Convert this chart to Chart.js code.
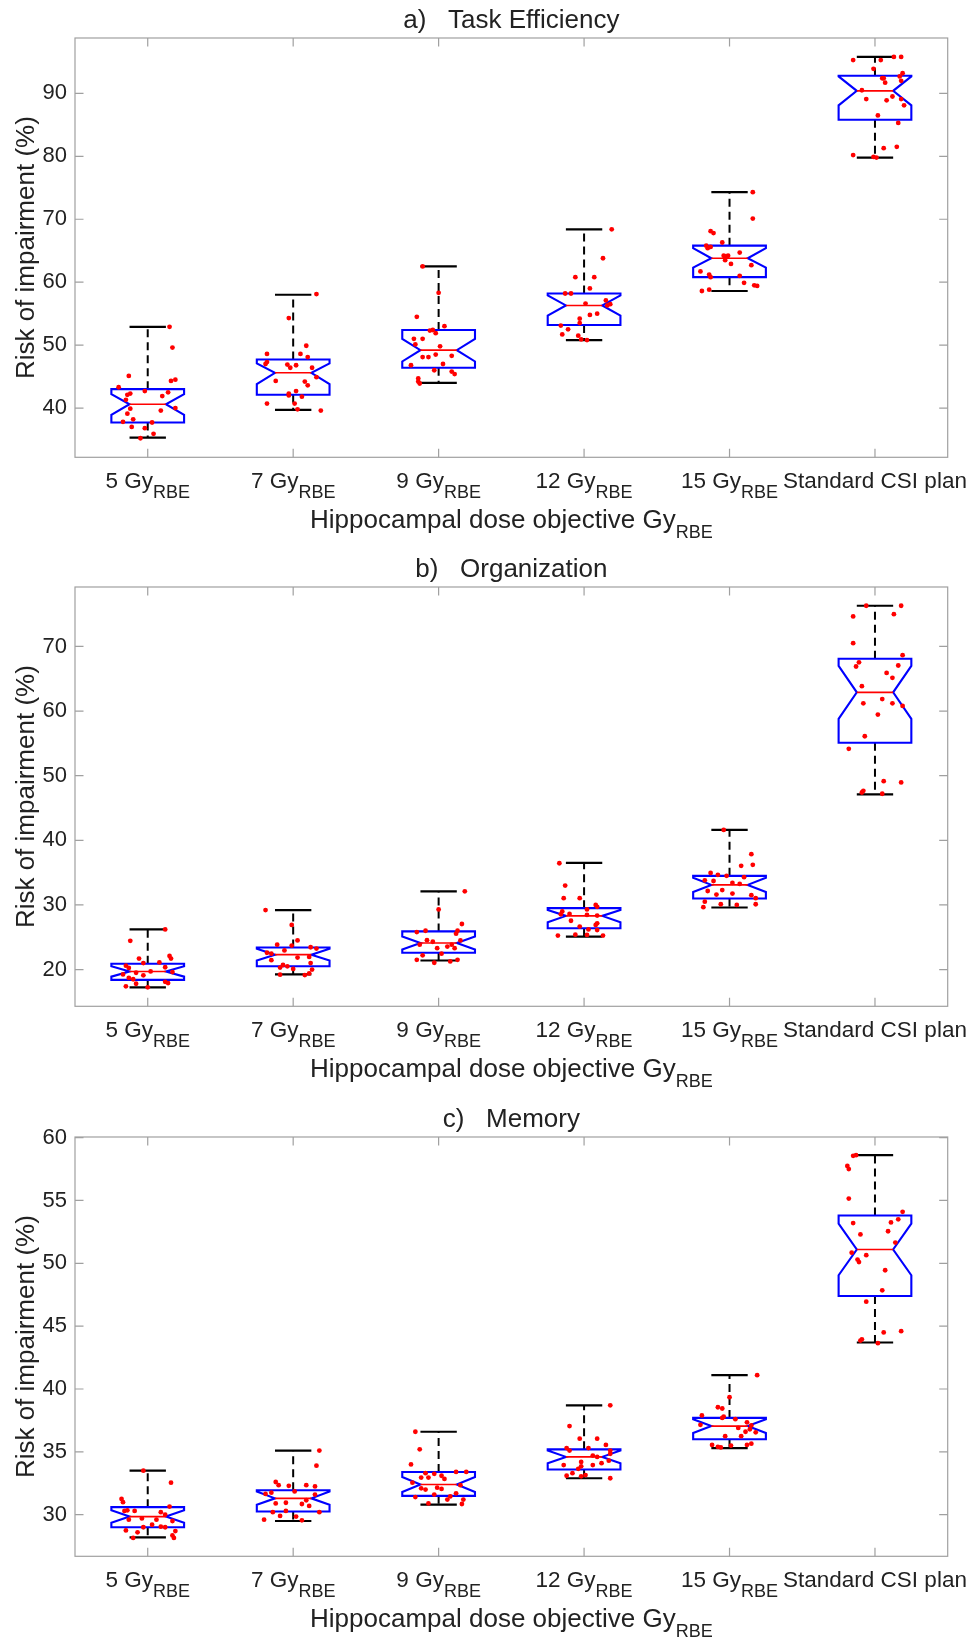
<!DOCTYPE html>
<html lang="en">
<head>
<meta charset="UTF-8">
<title>Risk of impairment</title>
<style>
  body { margin: 0; background: #fff; }
  .panel { position: absolute; left: 0; }
</style>
</head>
<body>
<canvas id="chartA" class="panel" width="975" height="545" style="top:0px"></canvas>
<canvas id="chartB" class="panel" width="975" height="545" style="top:549px"></canvas>
<canvas id="chartC" class="panel" width="975" height="545" style="top:1099px"></canvas>

<script src="https://cdn.jsdelivr.net/npm/chart.js"></script>
<script>
// ---- categories ----
const groups = ['5 Gy', '7 Gy', '9 Gy', '12 Gy', '15 Gy', 'Standard CSI plan'];
const groupSubs = ['RBE', 'RBE', 'RBE', 'RBE', 'RBE', ''];

// ---- a) Task Efficiency ----
const taskTicks = [40, 50, 60, 70, 80, 90];
const taskRange = [32.17, 98.8];
const taskWhiskLow = [35.3, 39.7, 44.0, 50.8, 58.6, 79.8];
const taskQ1 = [37.7, 42.1, 46.4, 53.2, 60.8, 85.8];
const taskNotchLow = [38.9, 43.8, 47.4, 54.7, 62.3, 88.1];
const taskMedian = [40.6, 45.6, 49.2, 56.3, 63.8, 90.4];
const taskNotchHigh = [42.2, 47.1, 51.0, 57.9, 65.4, 92.7];
const taskQ3 = [43.0, 47.7, 52.4, 58.2, 65.8, 92.8];
const taskWhiskHigh = [52.9, 58.0, 62.5, 68.4, 74.3, 95.8];
// [jitter offset, value]
const taskPoints = [
  [[.15,52.9],[.17,49.6],[-.13,45.1],[.16,44.3],[.19,44.5],[-.20,43.3],[-.02,42.7],[.14,42.5],[.10,41.9],[-.14,42.1],[-.12,42.3],[-.15,41.3],[-.12,39.9],[.19,40.0],[-.14,39.1],[.09,39.6],[-.10,38.2],[-.17,37.8],[.03,37.7],[-.11,37.0],[-.02,36.8],[.04,35.9],[-.05,35.2]],
  [[.16,58.1],[-.03,54.3],[.09,49.9],[-.18,48.6],[.05,48.6],[.10,48.1],[-.18,47.3],[-.19,47.0],[-.04,46.9],[.02,46.8],[-.02,46.4],[.13,46.4],[.16,44.9],[-.12,44.3],[.08,44.2],[.10,43.6],[-.03,42.3],[-.03,42.0],[.02,42.7],[.06,41.8],[-.18,40.7],[.01,40.7],[.03,39.8],[.19,39.6]],
  [[-.11,62.5],[0,58.3],[-.15,54.5],[.04,53.0],[-.06,52.3],[-.04,52.4],[-.02,51.9],[-.17,51.0],[-.11,51.0],[-.16,50.1],[.01,49.8],[-.11,48.1],[-.07,48.1],[-.02,48.5],[.09,48.3],[.03,47.0],[-.19,46.8],[-.03,46.0],[.09,45.8],[.11,45.4],[-.14,44.7],[-.14,44.2],[-.13,43.9]],
  [[.19,68.4],[.13,63.8],[-.06,60.8],[.07,60.8],[.04,59.0],[-.13,58.2],[-.09,58.2],[.01,56.6],[.15,57.1],[.18,56.5],[.16,56.3],[.09,55.0],[.04,54.8],[-.03,54.2],[-.03,53.5],[-.16,53.1],[-.11,52.5],[-.15,51.7],[-.04,51.5],[.02,50.8],[-.02,50.9]],
  [[.16,74.3],[.16,70.1],[-.13,68.1],[-.11,67.8],[-.05,66.3],[-.16,65.8],[-.15,65.4],[-.13,65.6],[.07,64.7],[-.04,64.2],[-.03,64.1],[-.01,64.2],[-.03,63.5],[.01,62.9],[.15,62.7],[-.20,61.7],[-.14,61.2],[-.13,60.8],[.07,61.0],[.10,59.9],[.17,59.5],[.19,59.4],[-.19,58.6],[-.14,58.8]],
  [[-.15,95.3],[.04,95.3],[.13,95.8],[.18,95.8],[-.01,93.9],[.05,92.4],[.06,92.4],[.07,91.7],[.17,92.7],[.19,93.2],[.18,92.0],[-.09,90.5],[.12,89.5],[-.06,89.1],[.08,88.9],[.18,89.1],[.20,88.1],[.02,86.5],[.16,85.3],[.06,81.3],[.15,81.5],[-.15,80.2],[-.01,79.9],[.01,79.8]]
];

// ---- b) Organization ----
const orgTicks = [20, 30, 40, 50, 60, 70];
const orgRange = [14.31, 79.2];
const orgWhiskLow = [17.25, 19.25, 21.4, 25.1, 29.6, 47.1];
const orgQ1 = [18.4, 20.5, 22.6, 26.4, 31.0, 55.1];
const orgNotchLow = [18.9, 21.4, 23.1, 27.3, 32.0, 58.8];
const orgMedian = [19.7, 22.3, 24.1, 28.3, 33.1, 62.9];
const orgNotchHigh = [20.5, 23.2, 25.1, 29.2, 34.2, 67.0];
const orgQ3 = [20.9, 23.4, 25.9, 29.5, 34.5, 68.1];
const orgWhiskHigh = [26.2, 29.2, 32.1, 36.5, 41.6, 76.3];
const orgPoints = [
  [[.12,26.2],[-.12,24.45],[.15,22.1],[.16,21.7],[-.06,21.7],[.08,21.1],[-.03,21.0],[-.15,20.6],[-.13,20.25],[.12,20.35],[.02,19.7],[-.08,19.5],[-.17,19.25],[.17,19.6],[-.13,18.7],[-.10,18.5],[-.03,19.1],[.12,18.1],[.14,17.9],[-.08,17.8],[-.15,17.4],[0,17.25]],
  [[-.19,29.2],[-.01,26.9],[.03,24.5],[-.11,23.85],[-.18,22.6],[-.15,22.45],[-.06,22.95],[-.01,23.7],[.12,23.45],[.16,23.25],[.11,21.95],[-.15,21.45],[.03,21.85],[.12,21.0],[-.07,20.7],[-.04,20.5],[-.09,20.3],[.13,20.0],[0,20.1],[-.09,19.2],[.08,19.15],[.11,19.4]],
  [[.18,32.1],[0,29.3],[.16,27.05],[-.09,26.0],[-.15,25.8],[.13,26.0],[.12,25.55],[.15,24.5],[-.04,24.3],[-.08,24.55],[.09,23.85],[.11,23.3],[.06,23.55],[-.13,23.85],[-.01,23.3],[.02,22.45],[-.11,22.2],[.13,21.5],[-.15,21.5],[-.03,21.05],[.08,21.25]],
  [[-.17,36.45],[-.13,33.0],[-.14,31.05],[-.03,31.05],[.09,29.7],[.08,30.0],[-.15,29.0],[-.16,28.55],[.02,29.3],[-.10,28.6],[.02,28.45],[.09,28.35],[-.09,27.55],[.09,27.15],[.08,26.9],[-.03,26.65],[.03,26.2],[.09,26.1],[-.18,25.25],[-.06,25.4],[.02,25.35],[.13,25.25]],
  [[-.04,41.6],[.15,37.85],[.16,36.2],[.08,36.05],[-.13,34.95],[-.08,34.65],[-.02,34.5],[.10,34.3],[-.17,33.8],[-.11,33.7],[.02,33.4],[.07,33.25],[-.15,32.15],[-.05,32.3],[.02,31.75],[.15,31.5],[.18,31.05],[-.09,31.6],[-.17,30.5],[-.06,30.1],[.05,30.0],[-.18,29.65],[.18,30.1]],
  [[-.06,76.3],[.18,76.3],[-.15,74.65],[.13,75.0],[-.15,70.5],[.19,68.65],[-.11,67.55],[-.13,66.9],[.16,67.05],[.08,65.9],[.12,65.15],[-.09,63.85],[.05,61.85],[-.08,61.2],[.12,61.2],[.19,60.8],[.02,59.45],[-.07,56.1],[-.18,54.15],[.06,49.15],[.18,48.95],[-.08,47.65],[-.09,47.4],[.05,47.2]]
];

// ---- c) Memory ----
const memTicks = [30, 35, 40, 45, 50, 55, 60];
const memRange = [26.69, 60.05];
const memWhiskLow = [28.2, 29.5, 30.8, 32.9, 35.3, 43.7];
const memQ1 = [29.0, 30.25, 31.5, 33.6, 36.0, 47.4];
const memNotchLow = [29.35, 30.8, 31.8, 34.1, 36.5, 49.05];
const memMedian = [29.85, 31.3, 32.4, 34.6, 37.05, 51.1];
const memNotchHigh = [30.35, 31.85, 33.0, 35.1, 37.6, 53.15];
const memQ3 = [30.6, 31.95, 33.4, 35.2, 37.7, 53.8];
const memWhiskHigh = [33.5, 35.1, 36.6, 38.7, 41.1, 58.6];
const memPoints = [
  [[-.03,33.5],[.16,32.55],[-.18,31.25],[-.17,31.0],[.15,30.65],[-.14,30.35],[-.16,30.3],[-.09,30.3],[.09,30.2],[.12,30.0],[-.04,29.7],[-.13,29.6],[.06,29.6],[.17,29.5],[.03,29.2],[.09,29.05],[-.03,29.0],[-.15,28.75],[.12,29.0],[-.07,28.6],[.19,28.7],[.17,28.35],[.18,28.15],[-.10,28.15]],
  [[.18,35.1],[.16,33.9],[-.12,32.6],[-.10,32.35],[-.03,32.3],[.09,32.35],[.15,32.25],[-.19,31.65],[-.15,31.75],[.01,31.85],[.15,31.6],[-.12,30.9],[-.05,30.95],[.06,30.85],[.11,30.7],[.09,31.15],[-.14,30.2],[-.05,30.3],[.18,30.2],[-.09,29.9],[.02,29.85],[-.20,29.6],[.06,29.55]],
  [[-.16,36.6],[-.13,35.2],[-.19,34.0],[-.09,33.3],[-.03,33.25],[.12,33.4],[.19,33.4],[-.07,32.95],[-.12,32.95],[.04,32.85],[.02,33.1],[-.18,32.55],[.15,32.35],[-.01,32.15],[.02,32.05],[-.12,32.1],[-.09,32.0],[.12,31.7],[-.03,31.6],[.08,31.45],[-.16,31.4],[.06,31.2],[.17,31.2],[-.07,30.9],[.16,30.85]],
  [[.18,38.7],[-.10,37.05],[.09,36.05],[-.03,36.05],[.15,35.55],[.03,35.3],[-.12,35.3],[-.10,35.1],[.18,35.1],[.18,34.85],[.06,34.7],[.09,34.6],[-.02,34.2],[-.14,33.95],[.17,34.3],[.12,34.1],[-.02,33.85],[.06,33.95],[-.04,33.65],[-.08,33.3],[.01,33.15],[-.02,33.05],[-.12,33.1],[.18,32.9]],
  [[.19,41.1],[0,39.35],[-.08,38.55],[-.05,38.45],[-.19,37.9],[-.05,37.7],[.04,37.6],[-.04,37.8],[.12,37.35],[.15,37.1],[-.20,37.15],[.06,36.9],[.14,36.8],[.18,36.55],[.11,36.6],[.08,36.25],[-.03,36.25],[-.12,35.55],[.01,35.5],[.12,35.55],[.15,35.65],[-.08,35.4],[-.06,35.35]],
  [[-.15,58.55],[-.13,58.6],[-.19,57.75],[-.18,57.5],[-.18,55.15],[.19,54.1],[.16,53.5],[-.15,53.2],[.11,53.25],[.09,52.55],[-.10,52.3],[.14,51.65],[-.16,50.85],[-.12,50.3],[-.11,50.1],[-.06,50.65],[.07,49.45],[.05,47.85],[-.06,46.95],[.06,44.5],[.18,44.6],[-.09,43.95],[-.10,43.85],[.02,43.65]]
];

// ---- drawing ----
const FONT = '"Liberation Sans", Arial, Helvetica, sans-serif';
const TEXT = '#222222';
const FRAME = '#a0a0a0';

function makeBoxPlugin(stats, yTicks) {
    return {
        id: 'notchedBoxes',
        beforeDatasetsDraw(chart) {
            const { ctx, chartArea: a, scales: { x, y } } = chart;
            ctx.save();

            // axes box with inward ticks (MATLAB style)
            ctx.strokeStyle = FRAME;
            ctx.lineWidth = 1.2;
            ctx.strokeRect(a.left, a.top, a.right - a.left, a.bottom - a.top);
            ctx.beginPath();
            yTicks.forEach(v => {
                const py = y.getPixelForValue(v);
                ctx.moveTo(a.left, py); ctx.lineTo(a.left + 8.5, py);
                ctx.moveTo(a.right, py); ctx.lineTo(a.right - 8.5, py);
            });
            groups.forEach((g, i) => {
                const px = x.getPixelForValue(i + 1);
                ctx.moveTo(px, a.bottom); ctx.lineTo(px, a.bottom - 8.5);
                ctx.moveTo(px, a.top); ctx.lineTo(px, a.top + 8.5);
            });
            ctx.stroke();

            stats.median.forEach((med, i) => {
                const xc = i + 1;
                const L = x.getPixelForValue(xc - 0.25), R = x.getPixelForValue(xc + 0.25);
                const nL = x.getPixelForValue(xc - 0.125), nR = x.getPixelForValue(xc + 0.125);
                const cx = x.getPixelForValue(xc);

                // whiskers
                ctx.strokeStyle = '#000';
                ctx.lineWidth = 2;
                ctx.setLineDash([8, 5]);
                ctx.beginPath();
                ctx.moveTo(cx, y.getPixelForValue(stats.q3[i]));
                ctx.lineTo(cx, y.getPixelForValue(stats.hi[i]));
                ctx.moveTo(cx, y.getPixelForValue(stats.q1[i]));
                ctx.lineTo(cx, y.getPixelForValue(stats.lo[i]));
                ctx.stroke();
                ctx.setLineDash([]);
                ctx.lineWidth = 2.2;
                ctx.beginPath();
                ctx.moveTo(nL, y.getPixelForValue(stats.hi[i]));
                ctx.lineTo(nR, y.getPixelForValue(stats.hi[i]));
                ctx.moveTo(nL, y.getPixelForValue(stats.lo[i]));
                ctx.lineTo(nR, y.getPixelForValue(stats.lo[i]));
                ctx.stroke();

                // notched box
                ctx.strokeStyle = '#0000ff';
                ctx.lineWidth = 2.1;
                ctx.beginPath();
                ctx.moveTo(L, y.getPixelForValue(stats.q1[i]));
                ctx.lineTo(L, y.getPixelForValue(stats.nlo[i]));
                ctx.lineTo(nL, y.getPixelForValue(med));
                ctx.lineTo(L, y.getPixelForValue(stats.nhi[i]));
                ctx.lineTo(L, y.getPixelForValue(stats.q3[i]));
                ctx.lineTo(R, y.getPixelForValue(stats.q3[i]));
                ctx.lineTo(R, y.getPixelForValue(stats.nhi[i]));
                ctx.lineTo(nR, y.getPixelForValue(med));
                ctx.lineTo(R, y.getPixelForValue(stats.nlo[i]));
                ctx.lineTo(R, y.getPixelForValue(stats.q1[i]));
                ctx.closePath();
                ctx.stroke();

                // median
                ctx.strokeStyle = '#ff0000';
                ctx.lineWidth = 1.6;
                ctx.beginPath();
                ctx.moveTo(nL, y.getPixelForValue(med));
                ctx.lineTo(nR, y.getPixelForValue(med));
                ctx.stroke();
            });
            ctx.restore();
        },
        afterDraw(chart) {
            const { ctx, chartArea: a, scales: { x } } = chart;
            ctx.save();
            ctx.fillStyle = TEXT;
            ctx.textBaseline = 'alphabetic';
            ctx.textAlign = 'left';

            // x tick labels with subscripts
            groups.forEach((g, i) => {
                const px = x.getPixelForValue(i + 1);
                ctx.font = '22.5px ' + FONT;
                const w1 = ctx.measureText(g).width;
                let w2 = 0;
                if (groupSubs[i]) {
                    ctx.font = '18px ' + FONT;
                    w2 = ctx.measureText(groupSubs[i]).width;
                }
                const start = px - (w1 + w2) / 2;
                ctx.font = '22.5px ' + FONT;
                ctx.fillText(g, start, a.bottom + 30.5);
                if (groupSubs[i]) {
                    ctx.font = '18px ' + FONT;
                    ctx.fillText(groupSubs[i], start + w1, a.bottom + 41);
                }
            });

            // x axis title
            const main = 'Hippocampal dose objective Gy', sub = 'RBE';
            ctx.font = '26px ' + FONT;
            const m1 = ctx.measureText(main).width;
            ctx.font = '18px ' + FONT;
            const m2 = ctx.measureText(sub).width;
            const sx = (a.left + a.right) / 2 - (m1 + m2) / 2;
            ctx.font = '26px ' + FONT;
            ctx.fillText(main, sx, a.bottom + 71);
            ctx.font = '18px ' + FONT;
            ctx.fillText(sub, sx + m1, a.bottom + 81);
            ctx.restore();
        }
    };
}

function createPanel(id, title, range, yTicks, stats, points) {
    const data = [];
    points.forEach((grp, gi) => {
        grp.forEach(p => data.push({ x: gi + 1 + p[0], y: p[1] }));
    });

    return new Chart(document.getElementById(id), {
        type: 'scatter',
        data: {
            datasets: [{
                data: data,
                backgroundColor: '#ff0000',
                borderWidth: 0,
                pointRadius: 2.4,
                pointHoverRadius: 2.4
            }]
        },
        options: {
            responsive: false,
            devicePixelRatio: 1,
            animation: false,
            events: [],
            layout: { padding: { left: 0, right: 27.3, top: 0, bottom: 0 } },
            plugins: {
                legend: { display: false },
                tooltip: { enabled: false },
                title: {
                    display: true,
                    fullSize: false,
                    text: title,
                    color: TEXT,
                    font: { family: FONT, size: 26, weight: 'normal', lineHeight: 1.2 },
                    padding: { top: 4.9, bottom: 1.9 }
                }
            },
            scales: {
                x: {
                    type: 'linear',
                    min: 0.5,
                    max: 6.5,
                    grid: { display: false, drawTicks: false },
                    border: { display: false },
                    ticks: { display: false },
                    afterFit: s => { s.height = 87.7; }
                },
                y: {
                    min: range[0],
                    max: range[1],
                    grid: { display: false, drawTicks: false },
                    border: { display: false },
                    afterBuildTicks: s => { s.ticks = yTicks.map(v => ({ value: v })); },
                    ticks: { color: TEXT, font: { family: FONT, size: 22 }, padding: 8 },
                    title: {
                        display: true,
                        text: 'Risk of impairment (%)',
                        color: TEXT,
                        font: { family: FONT, size: 26, lineHeight: 1.2 },
                        padding: { top: 11.4, bottom: 0 }
                    },
                    afterFit: s => { s.width = 75; }
                }
            }
        },
        plugins: [makeBoxPlugin(stats, yTicks)]
    });
}

createPanel('chartA', 'a)   Task Efficiency', taskRange, taskTicks,
    { lo: taskWhiskLow, q1: taskQ1, nlo: taskNotchLow, median: taskMedian, nhi: taskNotchHigh, q3: taskQ3, hi: taskWhiskHigh },
    taskPoints);
createPanel('chartB', 'b)   Organization', orgRange, orgTicks,
    { lo: orgWhiskLow, q1: orgQ1, nlo: orgNotchLow, median: orgMedian, nhi: orgNotchHigh, q3: orgQ3, hi: orgWhiskHigh },
    orgPoints);
createPanel('chartC', 'c)   Memory', memRange, memTicks,
    { lo: memWhiskLow, q1: memQ1, nlo: memNotchLow, median: memMedian, nhi: memNotchHigh, q3: memQ3, hi: memWhiskHigh },
    memPoints);
</script>
</body>
</html>
